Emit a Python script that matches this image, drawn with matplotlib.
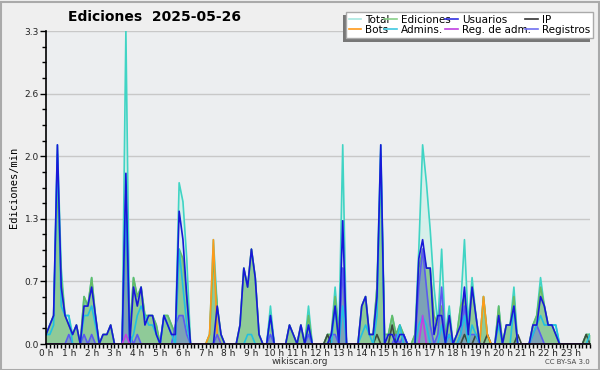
import numpy as np
import matplotlib
matplotlib.use("Agg")
import matplotlib.pyplot as plt
from matplotlib.lines import Line2D
from matplotlib.patches import Rectangle
from matplotlib.ticker import AutoMinorLocator, MultipleLocator

# 10-minute bins, values in edits per minute (144 bins)
total = [
    0.1, 0.2, 0.3, 2.1, 0.8, 0.3,   0.3, 0.1, 0.2, 0.0, 0.5, 0.4,
    0.7, 0.3, 0.0, 0.1, 0.1, 0.2,   0.0, 0.0, 0.0, 3.3, 0.1, 0.7,
    0.5, 0.6, 0.3, 0.3, 0.3, 0.2,   0.0, 0.3, 0.3, 0.2, 0.1, 1.7,
    1.5, 0.9, 0.0, 0.0, 0.0, 0.0,   0.0, 0.1, 1.1, 0.4, 0.1, 0.0,
    0.0, 0.0, 0.0, 0.2, 0.8, 0.6,   1.0, 0.7, 0.1, 0.0, 0.0, 0.4,
    0.0, 0.0, 0.0, 0.0, 0.2, 0.1,   0.0, 0.2, 0.0, 0.4, 0.0, 0.0,
    0.0, 0.0, 0.1, 0.1, 0.6, 0.1,   2.1, 0.0, 0.0, 0.0, 0.0, 0.4,
    0.5, 0.1, 0.1, 0.6, 2.1, 0.1,   0.1, 0.3, 0.1, 0.2, 0.1, 0.0,
    0.0, 0.1, 1.0, 2.1, 1.7, 1.2,   0.6, 0.2, 1.0, 0.1, 0.4, 0.0,
    0.1, 0.4, 1.1, 0.2, 0.7, 0.3,   0.0, 0.5, 0.1, 0.0, 0.0, 0.4,
    0.0, 0.2, 0.2, 0.6, 0.0, 0.0,   0.0, 0.0, 0.2, 0.3, 0.7, 0.4,
    0.2, 0.2, 0.2, 0.0, 0.0, 0.0,   0.0, 0.0, 0.0, 0.0, 0.1, 0.1,
]
ediciones = [
    0.1, 0.2, 0.3, 1.7, 0.7, 0.3,   0.2, 0.1, 0.2, 0.0, 0.5, 0.4,
    0.7, 0.3, 0.0, 0.1, 0.1, 0.2,   0.0, 0.0, 0.0, 1.3, 0.1, 0.7,
    0.5, 0.6, 0.3, 0.3, 0.3, 0.2,   0.0, 0.3, 0.3, 0.2, 0.1, 1.0,
    0.9, 0.5, 0.0, 0.0, 0.0, 0.0,   0.0, 0.1, 0.9, 0.4, 0.1, 0.0,
    0.0, 0.0, 0.0, 0.2, 0.8, 0.6,   1.0, 0.7, 0.1, 0.0, 0.0, 0.3,
    0.0, 0.0, 0.0, 0.0, 0.2, 0.1,   0.0, 0.2, 0.0, 0.3, 0.0, 0.0,
    0.0, 0.0, 0.1, 0.1, 0.5, 0.1,   0.8, 0.0, 0.0, 0.0, 0.0, 0.4,
    0.5, 0.1, 0.1, 0.6, 1.8, 0.1,   0.1, 0.3, 0.1, 0.2, 0.1, 0.0,
    0.0, 0.1, 0.8, 1.0, 0.8, 0.8,   0.3, 0.2, 0.4, 0.1, 0.3, 0.0,
    0.1, 0.4, 0.5, 0.1, 0.6, 0.3,   0.0, 0.5, 0.1, 0.0, 0.0, 0.4,
    0.0, 0.2, 0.2, 0.5, 0.0, 0.0,   0.0, 0.0, 0.2, 0.3, 0.6, 0.4,
    0.2, 0.2, 0.1, 0.0, 0.0, 0.0,   0.0, 0.0, 0.0, 0.0, 0.1, 0.1,
]
usuarios = [
    0.1, 0.2, 0.3, 2.1, 0.6, 0.3,   0.2, 0.1, 0.2, 0.0, 0.4, 0.4,
    0.6, 0.3, 0.0, 0.1, 0.1, 0.2,   0.0, 0.0, 0.0, 1.8, 0.0, 0.6,
    0.4, 0.6, 0.2, 0.3, 0.3, 0.1,   0.0, 0.3, 0.2, 0.1, 0.1, 1.4,
    1.1, 0.5, 0.0, 0.0, 0.0, 0.0,   0.0, 0.0, 0.0, 0.4, 0.1, 0.0,
    0.0, 0.0, 0.0, 0.2, 0.8, 0.6,   1.0, 0.7, 0.1, 0.0, 0.0, 0.3,
    0.0, 0.0, 0.0, 0.0, 0.2, 0.1,   0.0, 0.2, 0.0, 0.2, 0.0, 0.0,
    0.0, 0.0, 0.0, 0.1, 0.4, 0.0,   1.3, 0.0, 0.0, 0.0, 0.0, 0.4,
    0.5, 0.1, 0.1, 0.5, 2.1, 0.0,   0.1, 0.1, 0.0, 0.1, 0.1, 0.0,
    0.0, 0.0, 0.9, 1.1, 0.8, 0.8,   0.1, 0.3, 0.3, 0.0, 0.3, 0.0,
    0.1, 0.2, 0.6, 0.1, 0.6, 0.3,   0.0, 0.0, 0.0, 0.0, 0.0, 0.3,
    0.0, 0.2, 0.2, 0.4, 0.0, 0.0,   0.0, 0.0, 0.2, 0.2, 0.5, 0.4,
    0.2, 0.2, 0.1, 0.0, 0.0, 0.0,   0.0, 0.0, 0.0, 0.0, 0.0, 0.0,
]
ip = [0.0] * 144
for k, v in [(74, 0.1), (87, 0.1), (91, 0.2), (110, 0.1), (113, 0.1),
             (116, 0.1), (124, 0.1), (142, 0.1)]:
    ip[k] = v
bots = [0.0] * 144
for k, v in [(43, 0.1), (44, 1.1), (45, 0.1), (115, 0.5), (116, 0.1)]:
    bots[k] = v
admins = [
    0.1, 0.1, 0.2, 2.0, 0.4, 0.3,   0.3, 0.0, 0.0, 0.0, 0.3, 0.3,
    0.4, 0.2, 0.0, 0.0, 0.0, 0.0,   0.0, 0.0, 0.0, 1.5, 0.0, 0.1,
    0.3, 0.4, 0.3, 0.2, 0.2, 0.1,   0.0, 0.3, 0.2, 0.1, 0.0, 1.0,
    0.6, 0.2, 0.0, 0.0, 0.0, 0.0,   0.0, 0.0, 0.0, 0.0, 0.0, 0.0,
    0.0, 0.0, 0.0, 0.0, 0.0, 0.1,   0.1, 0.0, 0.0, 0.0, 0.0, 0.3,
    0.0, 0.0, 0.0, 0.0, 0.0, 0.0,   0.0, 0.0, 0.0, 0.2, 0.0, 0.0,
    0.0, 0.0, 0.0, 0.0, 0.4, 0.0,   0.4, 0.0, 0.0, 0.0, 0.0, 0.1,
    0.2, 0.1, 0.0, 0.3, 2.0, 0.0,   0.0, 0.0, 0.0, 0.2, 0.0, 0.0,
    0.0, 0.0, 0.2, 0.3, 0.2, 0.0,   0.0, 0.0, 0.2, 0.0, 0.1, 0.0,
    0.0, 0.1, 0.3, 0.0, 0.2, 0.1,   0.0, 0.0, 0.0, 0.0, 0.0, 0.2,
    0.0, 0.0, 0.0, 0.4, 0.0, 0.0,   0.0, 0.0, 0.1, 0.2, 0.3, 0.2,
    0.2, 0.2, 0.2, 0.0, 0.0, 0.0,   0.0, 0.0, 0.0, 0.0, 0.0, 0.1,
]
reg_adm = [0.0] * 144
for k, v in [(21, 0.1), (99, 0.3)]:
    reg_adm[k] = v
registros = [0.0] * 144
for k, v in [(6, 0.1), (10, 0.1), (12, 0.1), (21, 1.6), (22, 0.1), (24, 0.1),
             (34, 0.2), (35, 0.3), (36, 0.3), (37, 0.1), (45, 0.1), (59, 0.1),
             (69, 0.1), (75, 0.1), (76, 0.1), (78, 0.8), (92, 0.1), (94, 0.1),
             (98, 0.6), (99, 1.0), (100, 0.6), (101, 0.2), (103, 0.1), (104, 0.6),
             (106, 0.1), (109, 0.1), (110, 0.4), (111, 0.1), (112, 0.1), (113, 0.1),
             (128, 0.1), (129, 0.2), (130, 0.1)]:
    registros[k] = v

hour_labels = [f"{h} h" for h in range(24)]
title = "Ediciones  2025-05-26"

x = np.arange(144) / 6.0

fig = plt.figure(figsize=(6.0, 3.7), dpi=100, facecolor="#efefef")
ax = fig.add_axes([46 / 600, 1 - 344 / 370, 544 / 600, 313 / 370])
ax.set_facecolor("#eceef0")

# fills
ax.fill_between(x, total, 0, color="#d6efea", lw=0, zorder=1)
ax.fill_between(x, ediciones, 0, color="#8fca98", lw=0, zorder=2)
ax.fill_between(x, registros, 0, color="#5a5af0", alpha=0.35, lw=0, zorder=3)

lw = 1.2
ax.plot(x, total, color="#40d4c4", lw=lw, zorder=4)
ax.plot(x, ediciones, color="#66bb66", lw=lw, zorder=5)
ax.plot(x, ip, color="#3c4c3c", lw=lw, zorder=6)
ax.plot(x, bots, color="#ff9a1a", lw=lw, zorder=6)
ax.plot(x, registros, color="#5a5af0", lw=lw, zorder=7)
ax.plot(x, admins, color="#22c0e0", lw=lw, zorder=8)
ax.plot(x, usuarios, color="#1818d8", lw=lw, zorder=9)
ax.plot(x, reg_adm, color="#c040e0", lw=lw, zorder=10)

ax.set_xlim(0, 143 / 6.0)
ax.set_ylim(0, 3.3)
yt = np.linspace(0, 3.3, 6)
ax.set_yticks(yt)
ax.set_yticklabels([f"{v:.1f}" for v in yt])
ax.yaxis.set_minor_locator(AutoMinorLocator(4))
ax.set_xticks(np.arange(24))
ax.set_xticklabels(hour_labels)
ax.xaxis.set_minor_locator(MultipleLocator(1 / 6.0))
ax.grid(axis="y", which="major", color="#c8c8c8", lw=1, zorder=0)
ax.set_axisbelow(True)
for s in ["top", "right"]:
    ax.spines[s].set_visible(False)
for s in ["left", "bottom"]:
    ax.spines[s].set_color("black")
    ax.spines[s].set_linewidth(1.2)
    ax.spines[s].set_zorder(20)
ax.tick_params(axis="y", which="major", length=4, width=1, color="black",
               labelsize=6.5, labelcolor="#222222", pad=1)
ax.tick_params(axis="x", which="major", length=3, width=1, color="black",
               labelsize=6.5, labelcolor="#222222", pad=0.5)
ax.tick_params(axis="both", which="minor", length=3, width=1, color="black")

ax.set_ylabel("Ediciones/min", family="DejaVu Sans Mono", fontsize=7.5, labelpad=4)

fig.text(154 / 600, 1 - 17 / 370, title, ha="center", va="center",
         fontsize=10, fontweight="bold")
fig.text(300 / 600, 1 - 362 / 370, "wikiscan.org", ha="center", va="center",
         fontsize=6.5, color="#333333")
fig.text(590 / 600, 1 - 362 / 370, "CC BY-SA 3.0", ha="right", va="center",
         fontsize=5, color="#444444")

# legend with offset shadow
handles = [
    Line2D([], [], color="#a8e8e0", lw=1.2), Line2D([], [], color="#ff9a1a", lw=1.2),
    Line2D([], [], color="#88d088", lw=1.2), Line2D([], [], color="#40c8e0", lw=1.2),
    Line2D([], [], color="#3030e0", lw=1.2), Line2D([], [], color="#c040e0", lw=1.2),
    Line2D([], [], color="#333333", lw=1.2), Line2D([], [], color="#7070f0", lw=1.2),
]
labels = ["Total", "Bots", "Ediciones", "Admins.", "Usuarios", "Reg. de adm.", "IP", "Registros"]
lx0, ly0, lx1, ly1 = 346, 12, 593, 39
fig.patches.append(Rectangle(((lx0 - 3) / 600, 1 - (ly1 + 3) / 370),
                             (lx1 - lx0) / 600, (ly1 - ly0) / 370,
                             transform=fig.transFigure, facecolor="#777777",
                             edgecolor="none", zorder=1))
leg = fig.legend(handles, labels, ncol=4, loc="upper left",
                 bbox_to_anchor=(lx0 / 600, 1 - ly1 / 370, (lx1 - lx0) / 600, (ly1 - ly0) / 370),
                 mode="expand", fontsize=7.5, frameon=True, fancybox=False,
                 handlelength=1.2, handletextpad=0.4, columnspacing=0.3,
                 labelspacing=0.05, borderpad=0.25, borderaxespad=0)
leg.get_frame().set_facecolor("white")
leg.get_frame().set_edgecolor("#aaaaaa")
leg.get_frame().set_alpha(1)
leg.set_zorder(5)

fig.patches.append(Rectangle((0.5 / 600, 0.5 / 370), 598 / 600, 368 / 370,
                             transform=fig.transFigure, facecolor="none",
                             edgecolor="#aaaaaa", lw=1.5, zorder=0))

fig.savefig("out.png", dpi=100, facecolor=fig.get_facecolor())
